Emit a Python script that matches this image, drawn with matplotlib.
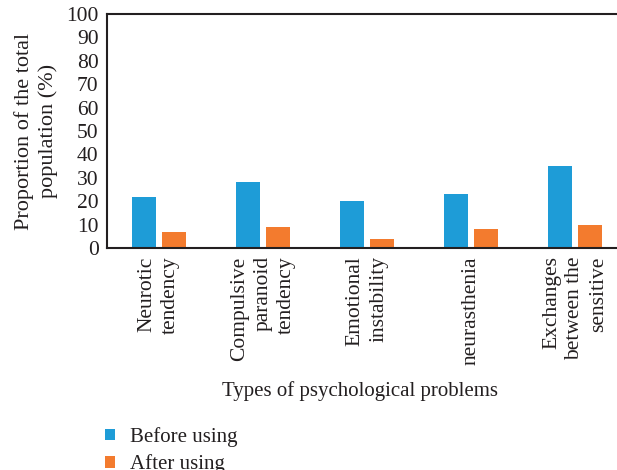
import numpy as np
import matplotlib.pyplot as plt

plt.rcParams['font.family'] = ['Liberation Serif', 'DejaVu Serif']

categories = ['Neurotic\ntendency', 'Compulsive\nparanoid\ntendency', 'Emotional\ninstability',
              'neurasthenia', 'Exchanges\nbetween the\nsensitive']
before = [22, 28, 20, 23, 35]
after = [7, 9, 4, 8, 10]

blue = '#1E9CD7'
orange = '#F37B2E'
ink = '#231f20'

fig = plt.figure(figsize=(6.17, 4.70), dpi=100)
ax = fig.add_axes([107 / 617, 1 - 248 / 470, 520 / 617, 234 / 470])

x = np.arange(len(categories))
w = 0.23
ax.bar(x - 0.144, before, w, color=blue, label='Before using')
ax.bar(x + 0.144, after, w, color=orange, label='After using')

ax.set_xlim(-0.5, 4.5)
ax.set_ylim(0, 100)
ax.set_yticks(range(0, 101, 10))
ax.set_xticks(x)
ax.set_xticklabels(categories, rotation=90, va='top', ha='center',
                   multialignment='right', linespacing=1.3)
ax.tick_params(axis='both', length=0, labelsize=15.5, colors=ink)
ax.tick_params(axis='y', pad=6)
ax.tick_params(axis='x', pad=6)
for s in ax.spines.values():
    s.set_color(ink)
    s.set_linewidth(1.5)

ax.set_ylabel('Proportion of the total\npopulation (%)', fontsize=16, color=ink,
              linespacing=1.3)
ax.yaxis.set_label_coords(-0.094, 0.5)
ax.set_xlabel('Types of psychological problems', fontsize=15, color=ink)
ax.xaxis.set_label_coords(0.487, -0.568)

fig.legend(loc='upper left', bbox_to_anchor=(97 / 617, 1 - 419 / 470), frameon=False,
           fontsize=15, handlelength=0.45, handleheight=0.45, handletextpad=0.75,
           labelspacing=0.35, labelcolor=ink, borderaxespad=0)

fig.savefig('out.png', dpi=100)
